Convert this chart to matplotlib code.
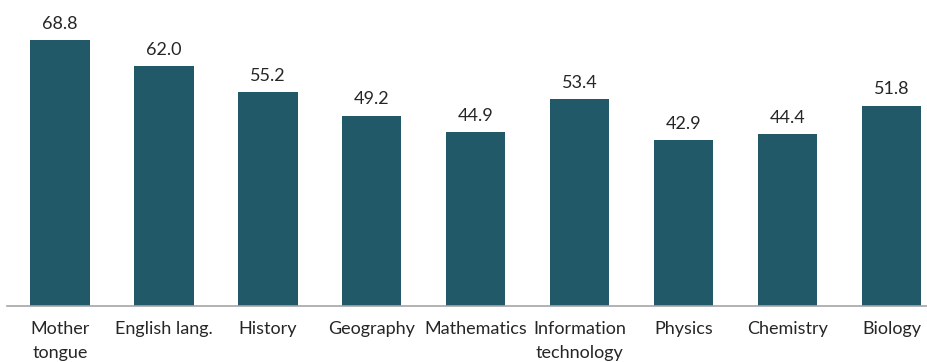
import matplotlib
matplotlib.use("Agg")
import matplotlib.pyplot as plt

subjects = ["Mother\ntongue", "English lang.", "History", "Geography", "Mathematics",
            "Information\ntechnology", "Physics", "Chemistry", "Biology"]
scores = [68.8, 62.0, 55.2, 49.2, 44.9, 53.4, 42.9, 44.4, 51.8]

plt.rcParams['font.family'] = ['Lato', 'DejaVu Sans']

fig = plt.figure(figsize=(9.28, 3.62), dpi=100)
ax = fig.add_axes([7 / 928, 56 / 362, 921 / 928, 306 / 362])

x = range(len(subjects))
bars = ax.bar(x, scores, width=0.57, color="#215968")

for b, v in zip(bars, scores):
    ax.annotate(f"{v:.1f}", (b.get_x() + b.get_width() / 2, v),
                xytext=(0, 6), textcoords="offset points",
                ha="center", va="bottom", fontsize=13, color="#262626")

ax.set_xlim(-0.51, 8.35)
ax.set_ylim(0, 79.1)
ax.set_xticks(list(x))
ax.set_xticklabels(subjects, fontsize=13, color="#262626", linespacing=1.6)
ax.tick_params(axis="x", length=0, pad=11)
ax.set_yticks([])
for s in ["top", "right", "left"]:
    ax.spines[s].set_visible(False)
ax.spines["bottom"].set_color("#a6a6a6")
ax.spines["bottom"].set_linewidth(1.2)

fig.savefig("out.png", dpi=100)
